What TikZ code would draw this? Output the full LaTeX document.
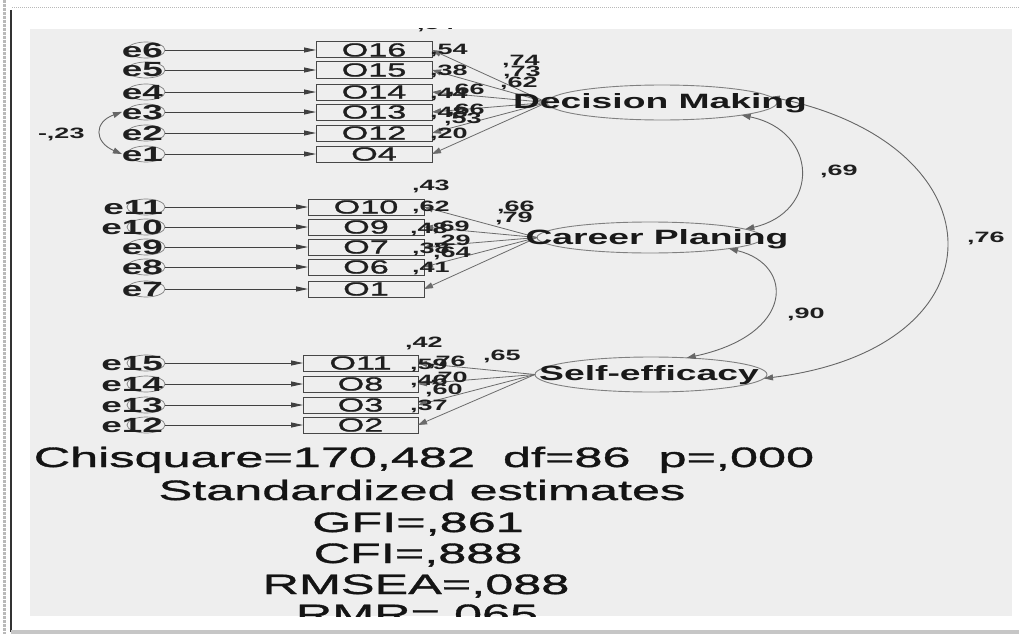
\documentclass[tikz,border=0pt]{standalone}
\usepackage{fontspec}
\setmainfont{Liberation Sans}
\newfontfamily\wide[FakeStretch=1.8]{Liberation Sans}
\newfontfamily\widefat[FakeStretch=1.8,FakeBold=1.3]{Liberation Sans}
\usetikzlibrary{arrows.meta,shapes.geometric}
\definecolor{panelgray}{HTML}{EEEEEE}
\begin{document}
\begin{tikzpicture}[x=1pt,y=-1pt,
  every node/.style={inner sep=0pt, outer sep=0pt},
  errc/.style={ellipse, draw=black!50, line width=0.7pt, minimum width=38pt, minimum height=16pt},
  etext/.style={anchor=base east, font=\wide\bfseries\fontsize{20.5}{21}\selectfont, text=black!88},
  obs/.style={rectangle, draw=black!72, line width=1pt, minimum width=116pt, minimum height=16pt, font=\widefat\fontsize{19}{19}\selectfont, text=black!88},
  lat/.style={ellipse, draw=black!50, line width=0.9pt},
  lattext/.style={anchor=base, font=\wide\bfseries\fontsize{20.7}{21}\selectfont, text=black!90},
  lbl/.style={anchor=base west, font=\wide\bfseries\fontsize{15}{15}\selectfont, text=black!88},
  stat/.style={anchor=base, font=\widefat\fontsize{28}{28}\selectfont, text=black!92},
  earrow/.style={draw=black!75, line width=0.9pt, -{Triangle[length=12pt,width=5pt]}},
  load/.style={draw=black!58, line width=0.8pt, -{Triangle[length=9pt,width=6pt]}},
  cov/.style={draw=black!60, line width=0.9pt, {Triangle[length=9pt,width=6pt]}-{Triangle[length=9pt,width=6pt]}},
]
\useasboundingbox (0,0) rectangle (1019,634);
\fill[white] (0,0) rectangle (1019,634);
% window frame
\draw[gray!55, densely dotted, line width=3pt] (4,0) -- (4,634);
\draw[gray!55, densely dotted, line width=1pt] (12,8) -- (1019,8);
\draw[black!80, line width=1.6pt] (11,10) -- (11,632);
\fill[gray!45] (11,629.5) rectangle (1019,634);
\fill[panelgray] (30,29) rectangle (1012,616);

\begin{scope}
\clip (30,29) rectangle (1012,616);

% ---------- latent variables ----------
\node[lat, minimum width=230pt, minimum height=35pt] (DM) at (662,102.5) {};
\node[lat, minimum width=226pt, minimum height=31pt] (CP) at (650,237.5) {};
\node[lat, minimum width=232pt, minimum height=35pt] (SE) at (651,374.5) {};

% ---------- Decision Making block ----------
\foreach \n/\o/\y in {6/16/50, 5/15/70, 4/14/92, 3/13/112, 2/12/133, 1/4/154}{
  \node[errc] (e\n) at (146,\y) {};
  \node[obs] (o\o) at (374,\y) {O\o};
  \node[etext] (t\n) at (163,\y+7) {e\n};
  \draw[earrow] (e\n) -- (o\o);
  \draw[load] (DM.west) -- (o\o.east);
}
% ---------- Career Planing block ----------
\foreach \n/\o/\y in {11/10/207, 10/9/227, 9/7/247, 8/6/267, 7/1/289}{
  \node[errc] (e\n) at (146,\y) {};
  \node[obs] (o\o) at (366,\y) {O\o};
  \node[etext] (t\n) at (163,\y+7) {e\n};
  \draw[earrow] (e\n) -- (o\o);
  \draw[load] (CP.west) -- (o\o.east);
}
% ---------- Self-efficacy block ----------
\foreach \n/\o/\y in {15/11/363, 14/8/384, 13/3/405, 12/2/425}{
  \node[errc] (e\n) at (146,\y) {};
  \node[obs, minimum width=115pt] (o\o) at (360.5,\y) {O\o};
  \node[etext] (t\n) at (163,\y+7) {e\n};
  \draw[earrow] (e\n) -- (o\o);
  \draw[load] (SE.west) -- (o\o.east);
}

% ---------- covariances ----------
\draw[cov] (t3.west) .. controls +(-28,10) and +(-28,-12) .. (t1.west);
\draw[cov] (DM.-9) .. controls +(77,16) and +(75,-17) .. (CP.5);
\draw[cov] (CP.-8) .. controls +(66,16) and +(108,-23) .. (SE.25);
\draw[cov] (DM.3) .. controls +(233,49) and +(243,-30) .. (SE.-2);

% ---------- latent names ----------
\node[lattext] (tDM) at (660,108.4) {Decision Making};
\node[lattext] (tCP) at (657,244.4) {Career Planing};
\node[lattext] (tSE) at (649,380.4) {Self-efficacy};

% ---------- estimates ----------
\node[lbl] (n1) at (417,30) {,54};
\node[lbl] (n2) at (430,55) {,54};
\node[lbl] (n3) at (430,75) {,38};
\node[lbl] (n4) at (430,98) {,44};
\node[lbl] (n5) at (447,94) {,66};
\node[lbl] (n6) at (430,117) {,48};
\node[lbl] (n7) at (447,114) {,66};
\node[lbl] (n8) at (444,123) {,53};
\node[lbl] (n9) at (430,138) {,20};
\node[lbl] (n10) at (502,65) {,74};
\node[lbl] (n11) at (503,77) {,73};
\node[lbl] (n12) at (500,87) {,62};

\node[lbl] (c1) at (412,190) {,43};
\node[lbl] (c2) at (412,211) {,62};
\node[lbl] (c3) at (497,211) {,66};
\node[lbl] (c4) at (495,222) {,79};
\node[lbl] (c5) at (410,233) {,48};
\node[lbl] (c6) at (432,231) {,69};
\node[lbl] (c7) at (433,245) {,29};
\node[lbl] (c8) at (412,253) {,38};
\node[lbl] (c9) at (433,257) {,64};
\node[lbl] (c10) at (412,272) {,41};

\node[lbl] (s1) at (405,347) {,42};
\node[lbl] (s2) at (483,360) {,65};
\node[lbl] (s3) at (410,369) {,59};
\node[lbl] (s4) at (428,366) {,76};
\node[lbl] (s5) at (410,385) {,46};
\node[lbl] (s6) at (430,382) {,70};
\node[lbl] (s7) at (425,394) {,60};
\node[lbl] (s8) at (410,410) {,37};

\node[lbl] (r1) at (38,138) {-,23};
\node[lbl] (r2) at (820,175) {,69};
\node[lbl] (r3) at (787,318) {,90};
\node[lbl] (r4) at (967,242) {,76};

% ---------- fit statistics ----------
\node[stat] (f1) at (424,467) {Chisquare=170,482\ \ df=86\ \ p=,000};
\node[stat] (f2) at (422,500) {Standardized estimates};
\node[stat] (f3) at (418,532) {GFI=,861};
\node[stat] (f4) at (418,563) {CFI=,888};
\node[stat] (f5) at (416,594) {RMSEA=,088};
\node[stat] (f6) at (417,624) {RMR=,065};
\end{scope}
\end{tikzpicture}
\end{document}
